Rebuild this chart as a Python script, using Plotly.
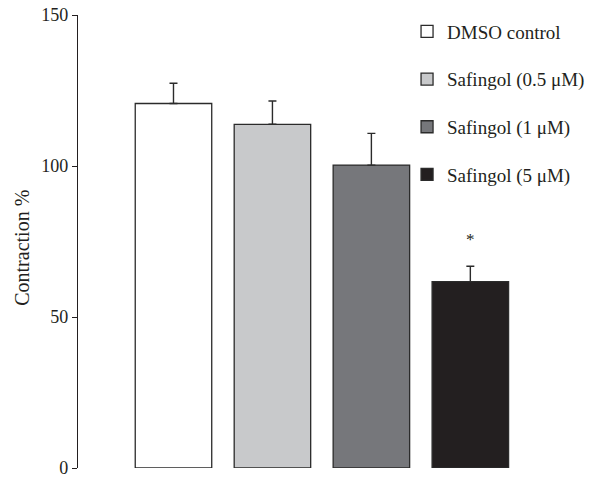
import plotly.graph_objects as go

categories = ["DMSO control", "Safingol (0.5 μM)", "Safingol (1 μM)", "Safingol (5 μM)"]
means = [120.7, 113.8, 100.3, 61.7]
errors = [6.7, 7.7, 10.5, 5.1]
colors = ["#ffffff", "#c8c9cb", "#76777b", "#231f20"]
y_ticks = [0, 50, 100, 150]
y_title = "Contraction %"
star_label = "*"
star_value = 75.5
star_index = 3

FONT = "Liberation Serif"
fig = go.Figure()
for i, (cat, m, e, c) in enumerate(zip(categories, means, errors, colors)):
    fig.add_trace(go.Bar(
        x=[i], y=[m], name=cat, width=0.773,
        marker=dict(color=c, line=dict(color="#2b2b2b", width=1.3)),
        error_y=dict(type="data", array=[e], arrayminus=[0], symmetric=False,
                     color="#2b2b2b", thickness=1.4, width=4),
        legendgroup=f"g{i}", hoverinfo="skip",
    ))

fig.add_annotation(x=star_index, y=star_value, text=star_label, showarrow=False,
                   font=dict(family=FONT, size=17, color="#231f20"))
fig.add_annotation(xref="paper", yref="paper", x=-0.108, y=0.486, text=y_title,
                   xanchor="center", yanchor="middle",
                   textangle=-90, showarrow=False,
                   font=dict(family=FONT, size=20, color="#231f20"))

fig.update_layout(
    width=607, height=478,
    margin=dict(l=78, r=10, t=15, b=10, autoexpand=False),
    paper_bgcolor="white", plot_bgcolor="white",
    barmode="overlay",
    font=dict(family=FONT, size=18, color="#231f20"),
    showlegend=True,
    legend=dict(xref="paper", yref="paper", x=0.634, y=1.0055,
                xanchor="left", yanchor="top", tracegroupgap=20,
                font=dict(family=FONT, size=19, color="#231f20"),
                bgcolor="rgba(0,0,0,0)"),
    xaxis=dict(range=[-0.965, 4.28], showticklabels=False, showline=False,
               showgrid=False, zeroline=False, ticks="", automargin=False),
    yaxis=dict(range=[0, 150], tickvals=y_ticks, showline=True, linecolor="#231f20",
               linewidth=1.3, ticks="outside", ticklen=5, tickcolor="#231f20",
               tickwidth=1.3, showgrid=False, zeroline=False, automargin=False,
               ticklabeloverflow="allow",
               tickfont=dict(family=FONT, size=18)),
)

fig.write_html("out.html", config={"displayModeBar": False},
               post_script="document.body.style.margin='0';document.body.style.overflow='hidden';")
